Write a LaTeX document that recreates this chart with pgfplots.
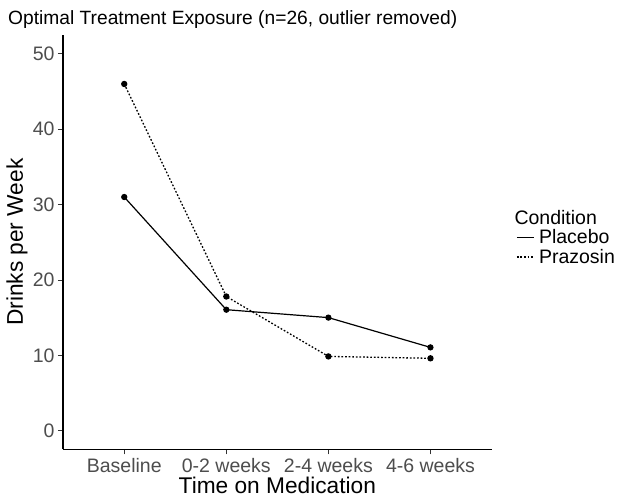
\documentclass[border=0pt]{standalone}
\usepackage{fontspec}
\setmainfont{Liberation Sans}
\usepackage{pgfplots}
\pgfplotsset{compat=1.18}
\definecolor{tickgray}{HTML}{4D4D4D}
\definecolor{tickline}{HTML}{333333}
\begin{document}
\begin{tikzpicture}
\useasboundingbox (0pt,0pt) rectangle (623pt,502pt);
\begin{axis}[
  at={(63pt,52.5pt)}, anchor=south west,
  scale only axis, width=428.7pt, height=414.5pt,
  xmin=0.4, xmax=4.6, ymin=-2.5, ymax=52.5,
  axis x line*=bottom, axis y line*=left,
  axis line style={-, line width=1.1pt, black},
  xtick={1,2,3,4},
  xticklabels={Baseline,0-2 weeks,2-4 weeks,4-6 weeks},
  ytick={0,10,20,30,40,50},
  tick align=outside, major tick length=5pt,
  tick style={tickline, line width=0.8pt},
  /pgf/number format/assume math mode=true,
  tick label style={font=\fontsize{19.5}{20}\selectfont, text=tickgray},
  xlabel={Time on Medication},
  ylabel={Drinks per Week},
  label style={font=\fontsize{22.7}{24}\selectfont},
  xlabel style={at={(axis description cs:0.5,0)}, anchor=base, yshift=-44.5pt},
  ylabel style={at={(axis description cs:-0.1073,0.5)}, anchor=center},
  legend style={at={(axis description cs:1.0567,0.535)}, anchor=north west,
    draw=none, fill=none, inner sep=0pt, row sep=1pt,
    nodes={inner sep=1.5pt, font=\fontsize{19.5}{20}\selectfont}},
  legend cell align=left,
  legend image code/.code={\draw[#1] (0pt,0pt) -- (17pt,0pt); \path (20pt,0pt);},
]
\addplot[black, line width=1.2pt, mark=*, mark size=2.5pt, mark options={solid}]
  coordinates {(1,31) (2,16.05) (3,15) (4,11.05)};
\addlegendentry{Placebo}
\addplot[black, line width=1.3pt, dash pattern=on 1.7pt off 1.9pt, mark=*, mark size=2.5pt, mark options={solid}]
  coordinates {(1,46) (2,17.8) (3,9.85) (4,9.6)};
\addlegendentry{Prazosin}
\end{axis}
\node[anchor=base west, inner sep=0pt, font=\fontsize{19.2}{20}\selectfont] at (8pt,477pt) {Optimal Treatment Exposure (n=26, outlier removed)};
\node[anchor=base west, inner sep=0pt, font=\fontsize{19.5}{20}\selectfont] at (514.3pt,277pt) {Condition};
\end{tikzpicture}
\end{document}
